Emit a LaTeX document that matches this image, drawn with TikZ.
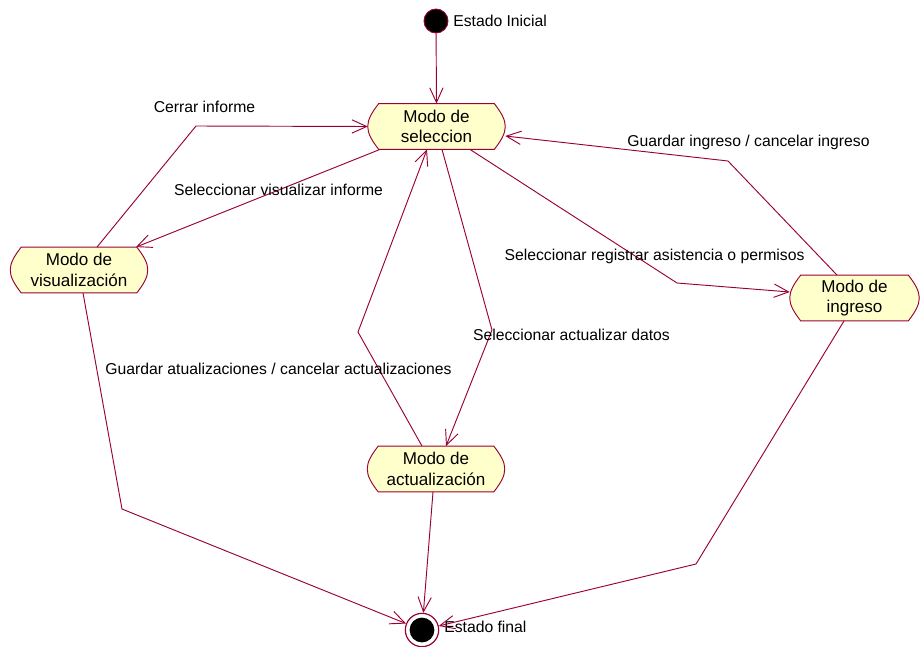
\documentclass[tikz,border=0pt]{standalone}
\usepackage{fontspec}
\setmainfont{Liberation Sans}
\usetikzlibrary{arrows.meta,calc,backgrounds}
\definecolor{rosered}{RGB}{153,0,51}
\definecolor{rosefill}{RGB}{255,255,204}
\begin{document}
\begin{tikzpicture}[x=0.75pt,y=-0.75pt,
  every node/.style={font=\fontsize{11.8}{15}\selectfont, text=black},
  statebox/.style={minimum width=#1, minimum height=34pt, inner sep=0pt, align=center, font=\fontsize{12.8}{15.5}\selectfont},
  conn/.style={draw=rosered, line width=0.7pt, -{Straight Barb[length=11pt,width=10pt,line width=0.7pt]}},
  lbl/.style={inner sep=0pt},
  shapeline/.style={draw=rosered, fill=rosefill, line width=0.7pt}]
\useasboundingbox (0,0) rectangle (920,646);

% states
\node[circle, fill=black, draw=rosered, line width=0.7pt, minimum size=18pt, inner sep=0pt] (init) at (436,21) {};
\node[lbl, anchor=west] (initlbl) at (453,21) {Estado Inicial};

\node[statebox=102.75pt] (sel) at (436.5,126.5) {Modo de\\seleccion};
\node[statebox=102.75pt] (vis) at (79,270) {Modo de\\visualización};
\node[statebox=96.75pt] (ing) at (854.5,298) {Modo de\\ingreso};
\node[statebox=102.75pt] (act) at (436,469) {Modo de\\actualización};

\node[circle, draw=rosered, line width=0.9pt, fill=white, minimum size=25pt, inner sep=0pt] (fin) at (422,630) {};
\fill[black] (fin.center) circle (9.3pt);
\node[lbl, anchor=west] (finlbl) at (444,627) {Estado final};

% state shapes
\begin{scope}[on background layer]
\foreach \n in {sel,vis,ing,act}{
  \draw[shapeline]
    ($(\n.north west)+(11,0)$) -- ($(\n.north east)+(-11,0)$)
    .. controls ($(\n.north east)+(-4,9)$) and ($(\n.east)+(0,-7)$) .. (\n.east)
    .. controls ($(\n.east)+(0,7)$) and ($(\n.south east)+(-4,-9)$) .. ($(\n.south east)+(-11,0)$)
    -- ($(\n.south west)+(11,0)$)
    .. controls ($(\n.south west)+(4,-9)$) and ($(\n.west)+(0,7)$) .. (\n.west)
    .. controls ($(\n.west)+(0,-7)$) and ($(\n.north west)+(4,9)$) .. cycle;
}
\end{scope}

% connectors
\coordinate (b1) at (196,126);
\coordinate (b2) at (492,330);
\coordinate (b3) at (358,332);
\coordinate (b4) at (677,283);
\coordinate (b5) at (728,161);
\coordinate (b6) at (122,509);
\coordinate (b7) at (696,564);

\draw[conn] (init) -- (sel.north);
\draw[conn] ($(vis.north)+(18,0)$) -- (b1) -- (sel.west);
\draw[conn] ($(sel.south)+(-56.5,0)$) -- ($(vis.north)+(57,0)$);
\draw[conn] ($(sel.south)+(5.5,0)$) -- (b2) -- ($(act.north)+(10,0)$);
\draw[conn] ($(act.north)+(-14,0)$) -- (b3) -- ($(sel.south)+(-9.5,0)$);
\draw[conn] ($(sel.south)+(33.5,0)$) -- (b4) -- ($(ing.west)+(0,-6)$);
\draw[conn] ($(ing.north)+(-17.5,0)$) -- (b5) -- ($(sel.east)+(0,9.5)$);
\draw[conn] ($(vis.south)+(4,0)$) -- (b6) -- (fin);
\draw[conn] ($(act.south)+(-3,0)$) -- (fin);
\draw[conn] ($(ing.south)+(-10.5,0)$) -- (b7) -- (fin);

% labels
\node[lbl] (l1) at (204.5,107) {Cerrar informe};
\node[lbl] (l2) at (278.5,190) {Seleccionar visualizar informe};
\node[lbl] (l3) at (654.5,256) {Seleccionar registrar asistencia o permisos};
\node[lbl] (l4) at (748.5,142) {Guardar ingreso / cancelar ingreso};
\node[lbl] (l5) at (571.5,335) {Seleccionar actualizar datos};
\node[lbl] (l6) at (278.5,369) {Guardar atualizaciones / cancelar actualizaciones};
\end{tikzpicture}
\end{document}
